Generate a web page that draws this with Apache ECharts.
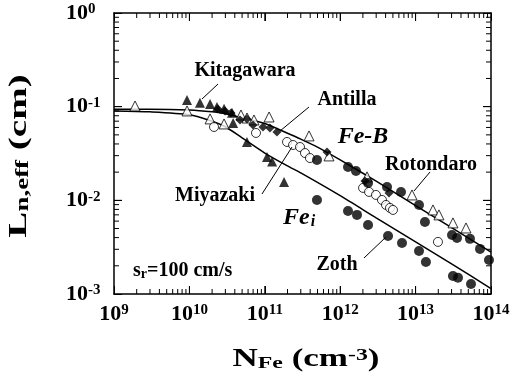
<!DOCTYPE html>
<html>
<head>
<meta charset="utf-8">
<script src="https://cdn.jsdelivr.net/npm/echarts@6/dist/echarts.min.js"></script>
<style>
html, body { margin: 0; padding: 0; background: #fff; }
#main { width: 516px; height: 382px; }
</style>
</head>
<body>
<div id="main"></div>
<script>
// curves
const feBCurve = [[1e9,0.094],[3e9,0.094],[1e10,0.092],[2e10,0.088],[3e10,0.084],[5e10,0.076],[1e11,0.066],[2e11,0.052],[3e11,0.045],[5e11,0.037],[1e12,0.027],[3e12,0.016],[1e13,0.0088],[3e13,0.0051],[1e14,0.0028]];
const feICurve = [[1e9,0.090],[3e9,0.088],[1e10,0.082],[2e10,0.070],[3e10,0.061],[5e10,0.0465],[1e11,0.032],[2e11,0.0233],[3e11,0.0196],[1e12,0.0112],[3e12,0.0065],[1e13,0.0036],[3e13,0.0021],[1e14,0.00114]];

// measured points
const kitagawara = [[9.3e9,0.118],[1.38e10,0.110],[1.88e10,0.107],[2.32e10,0.099],[2.88e10,0.095],[3.67e10,0.086],[3.8e10,0.067],[5.8e10,0.042],[1.07e11,0.029],[1.25e11,0.026],[1.8e11,0.0157]];
const antilla = [[2.39e10,0.0945],[2.97e10,0.090],[3.56e10,0.0857],[4.69e10,0.0721],[5.81e10,0.074],[6.98e10,0.0638],[9.46e10,0.0607],[1.17e11,0.0593],[1.45e11,0.0537],[6.68e11,0.0329],[2.13e12,0.0161],[4.44e12,0.012]];
const rotondaro = [[1.9e9,0.1017],[9.3e9,0.090],[1.88e10,0.074],[2.88e10,0.0654],[4.83e10,0.0815],[5.81e10,0.0757],[7.19e10,0.0721],[1.14e11,0.0776],[3.86e11,0.0487],[7.1e11,0.0298],[2.27e12,0.0178],[8.96e12,0.01142],[1.7e13,0.0079],[2.04e13,0.00699],[3.13e13,0.00574],[4.66e13,0.00507]];
const miyazaki = [[2.12e10,0.0607],[7.64e10,0.0524],[1.97e11,0.042],[2.37e11,0.039],[2.93e11,0.0371],[3.41e11,0.032],[3.97e11,0.0283],[2.01e12,0.01357],[2.41e12,0.0123],[2.98e12,0.01142],[3.58e12,0.0101],[4.05e12,0.00893],[4.57e12,0.0083],[5.01e12,0.0079],[1.98e13,0.0036]];
const zoth = [[4.92e11,0.027],[1.27e12,0.0227],[1.62e12,0.0206],[4.92e11,0.0101],[1.27e12,0.0077],[1.67e12,0.00699],[2.34e12,0.00546],[2.34e12,0.01534],[4.18e12,0.0139],[6.4e12,0.0123],[1.11e13,0.00893],[1.33e13,0.00588],[3.04e13,0.00427],[3.54e13,0.00397],[5.26e13,0.00388],[7.15e13,0.00303],[9.4e13,0.00231],[4.31e12,0.00417],[6.6e12,0.00351],[1.11e13,0.00288],[1.37e13,0.0022],[3.13e13,0.00156],[3.65e13,0.00149],[5.43e13,0.00128]];

// tick values (major at decades, minor at 2..9)
const xMajor = [1e10, 1e11, 1e12, 1e13];
const yMajor = [1e-2, 1e-1];
const xMinor = [];
for (let e = 9; e < 14; e++) for (let k = 2; k <= 9; k++) xMinor.push(k * Math.pow(10, e));
const yMinor = [];
for (let e = -3; e < 0; e++) for (let k = 2; k <= 9; k++) yMinor.push(k * Math.pow(10, e));

const serif = '"Liberation Serif", "Times New Roman", serif';

let myChart = echarts.init(document.getElementById('main'));

const tickRich = {
  b: { fontFamily: serif, fontWeight: 'bold', fontSize: 22, lineHeight: 22, verticalAlign: 'bottom', color: '#000' },
  s: { fontFamily: serif, fontWeight: 'bold', fontSize: 15, lineHeight: 15, padding: [0, 0, 12, 0], verticalAlign: 'top', color: '#000' }
};
const tickFmt = v => '{b|10}{s|' + Math.round(Math.log10(v)) + '}';

const axisLine = { show: true, lineStyle: { color: '#000', width: 1.5 } };
const majorTick = { show: true, inside: true, length: 8, lineStyle: { color: '#000', width: 1 } };

function ticks(values, horizontal, len) {
  return {
    type: 'custom',
    silent: true,
    clip: false,
    z: 5,
    data: values.map(v => horizontal ? [v, 0.01] : [1e11, v]),
    renderItem: (params, api) => {
      const st = { stroke: '#000', lineWidth: 1 };
      if (horizontal) {
        const v = api.value(0);
        const b = api.coord([v, 1e-3]);
        const t = api.coord([v, 1]);
        return { type: 'group', children: [
          { type: 'line', shape: { x1: b[0], y1: b[1], x2: b[0], y2: b[1] - len }, style: st },
          { type: 'line', shape: { x1: t[0], y1: t[1], x2: t[0], y2: t[1] + len }, style: st }
        ] };
      }
      const v = api.value(1);
      const l = api.coord([1e9, v]);
      const r = api.coord([1e14, v]);
      return { type: 'group', children: [
        { type: 'line', shape: { x1: l[0], y1: l[1], x2: l[0] + len, y2: l[1] }, style: st },
        { type: 'line', shape: { x1: r[0], y1: r[1], x2: r[0] - len, y2: r[1] }, style: st }
      ] };
    }
  };
}

function label(x, y, text) {
  return { type: 'text', x: x, y: y, z: 100, style: { text: text, fill: '#000', font: 'bold 20px ' + serif, align: 'center', verticalAlign: 'middle' } };
}
function leader(x1, y1, x2, y2) {
  return { type: 'line', z: 100, shape: { x1: x1, y1: y1, x2: x2, y2: y2 }, style: { stroke: '#000', lineWidth: 1 } };
}

const open = { color: '#fff', borderColor: '#000', borderWidth: 1 };
const filled = { color: '#000' };

option = {
  backgroundColor: '#fff',
  animation: false,
  grid: { left: 114, right: 25, top: 13, bottom: 88, outerBoundsMode: 'none' },
  xAxis: [
    {
      type: 'log', logBase: 10, min: 1e9, max: 1e14, position: 'bottom',
      axisLine: axisLine, axisTick: majorTick, splitLine: { show: false },
      axisLabel: { formatter: tickFmt, rich: tickRich, margin: 9, showMinLabel: true, showMaxLabel: true }
    },
    {
      type: 'log', logBase: 10, min: 1e9, max: 1e14, position: 'top',
      axisLine: axisLine, axisTick: majorTick, splitLine: { show: false }, axisLabel: { show: false }
    }
  ],
  yAxis: [
    {
      type: 'log', logBase: 10, min: 1e-3, max: 1, position: 'left',
      axisLine: axisLine, axisTick: majorTick, splitLine: { show: false },
      axisLabel: { formatter: tickFmt, rich: tickRich, margin: 48, align: 'left', showMinLabel: true, showMaxLabel: true }
    },
    {
      type: 'log', logBase: 10, min: 1e-3, max: 1, position: 'right',
      axisLine: axisLine, axisTick: majorTick, splitLine: { show: false }, axisLabel: { show: false }
    }
  ],
  series: [
    ticks(xMinor, true, 5),
    ticks(yMinor, false, 5),
    ticks(xMajor, true, 8),
    ticks(yMajor, false, 8),
    { name: 'Fe-B', type: 'line', data: feBCurve, smooth: 0.25, symbol: 'none', lineStyle: { color: '#000', width: 1.5 }, z: 2 },
    { name: 'Fe_i', type: 'line', data: feICurve, smooth: 0.25, symbol: 'none', lineStyle: { color: '#000', width: 1.5 }, z: 2 },
    { name: 'Rotondaro', type: 'scatter', data: rotondaro, symbol: 'triangle', symbolSize: 10, itemStyle: open, z: 3 },
    { name: 'Miyazaki', type: 'scatter', data: miyazaki, symbol: 'circle', symbolSize: 9, itemStyle: open, z: 3 },
    { name: 'Kitagawara', type: 'scatter', data: kitagawara, symbol: 'triangle', symbolSize: 10, itemStyle: filled, z: 4 },
    { name: 'Antilla', type: 'scatter', data: antilla, symbol: 'diamond', symbolSize: 9, itemStyle: filled, z: 4 },
    { name: 'Zoth', type: 'scatter', data: zoth, symbol: 'circle', symbolSize: 10, itemStyle: filled, z: 4 }
  ],
  graphic: [
    label(245, 71, 'Kitagawara'),
    leader(218, 84, 202, 99),
    label(347, 100, 'Antilla'),
    leader(309, 107, 280, 131),
    label(431, 165, 'Rotondaro'),
    leader(430, 172, 414, 191),
    label(215, 196, 'Miyazaki'),
    leader(262, 194, 292, 147),
    label(337, 265, 'Zoth'),
    leader(364, 258, 386, 237),
    { type: 'text', x: 363, y: 137, z: 100, style: { text: 'Fe-B', fill: '#000', font: 'italic bold 24px ' + serif, align: 'center', verticalAlign: 'middle' } },
    { type: 'text', x: 283, y: 218, z: 100, style: {
      text: '{m|Fe}{s|i}', align: 'left', verticalAlign: 'middle',
      rich: {
        m: { fontFamily: serif, fontStyle: 'italic', fontWeight: 'bold', fontSize: 24, lineHeight: 24, verticalAlign: 'top', color: '#000' },
        s: { fontFamily: serif, fontStyle: 'italic', fontWeight: 'bold', fontSize: 16, lineHeight: 16, padding: [14, 0, 0, 1], verticalAlign: 'bottom', color: '#000' }
      } } },
    { type: 'text', x: 133, y: 271, z: 100, style: {
      text: '{a|s}{b|r}{a|=100 cm/s}', align: 'left', verticalAlign: 'middle',
      rich: {
        a: { fontFamily: serif, fontWeight: 'bold', fontSize: 20, lineHeight: 20, verticalAlign: 'top', color: '#000' },
        b: { fontFamily: serif, fontWeight: 'bold', fontSize: 14, lineHeight: 14, padding: [9, 0, 0, 0], verticalAlign: 'bottom', color: '#000' }
      } } },
    // axis titles
    { type: 'text', x: 306, y: 360, scaleX: 1.4, z: 100, style: {
      text: '{m|N}{s|Fe}{m| (cm}{p|-3}{m|)}', align: 'center', verticalAlign: 'middle',
      rich: {
        m: { fontFamily: serif, fontWeight: 'bold', fontSize: 25, lineHeight: 25, color: '#000' },
        s: { fontFamily: serif, fontWeight: 'bold', fontSize: 17, lineHeight: 17, padding: [21, 0, 0, 0], verticalAlign: 'bottom', color: '#000' },
        p: { fontFamily: serif, fontWeight: 'bold', fontSize: 17, lineHeight: 17, padding: [0, 0, 21, 0], verticalAlign: 'top', color: '#000' }
      } } },
    { type: 'text', x: 19, y: 156, rotation: Math.PI / 2, scaleX: 1.5, z: 100, style: {
      text: '{m|L}{s|n,eff}{m| (cm)}', align: 'center', verticalAlign: 'middle',
      rich: {
        m: { fontFamily: serif, fontWeight: 'bold', fontSize: 26, lineHeight: 26, color: '#000' },
        s: { fontFamily: serif, fontWeight: 'bold', fontSize: 18, lineHeight: 18, padding: [26, 0, 0, 0], verticalAlign: 'bottom', color: '#000' }
      } } }
  ]
};

option && myChart.setOption(option);
</script>
</body>
</html>
